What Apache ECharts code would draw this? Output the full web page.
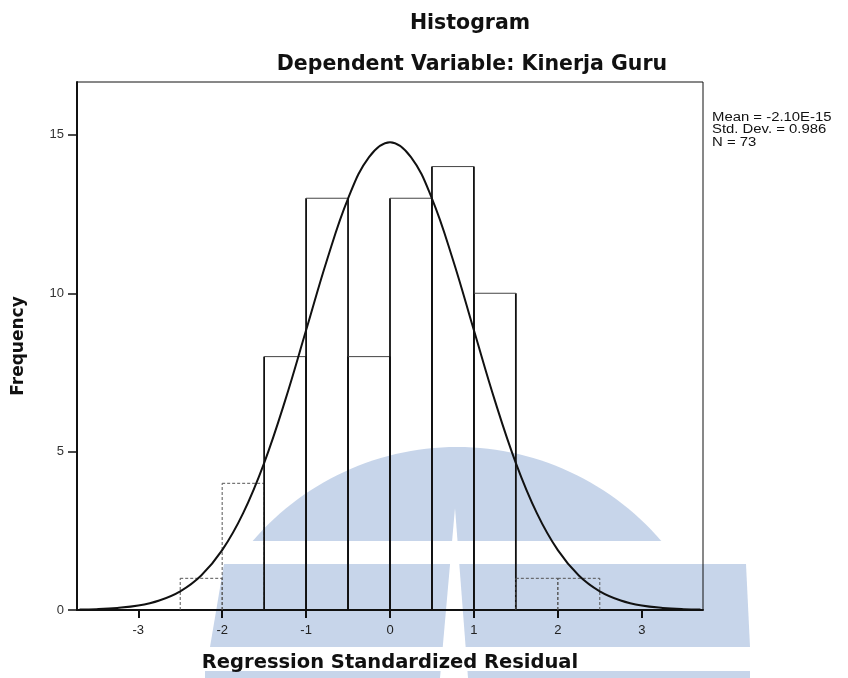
<!DOCTYPE html>
<html>
<head>
<meta charset="utf-8">
<script src="https://cdn.jsdelivr.net/npm/echarts@6/dist/echarts.min.js"></script>
<style>
html,body{margin:0;padding:0;background:#fff;}
#chart{width:848px;height:678px;}
</style>
</head>
<body>
<div id="chart"></div>
<script>
// ---- data ----
const binLower = [-2.5, -2.0, -1.5, -1.0, -0.5, 0.0, 0.5, 1.0, 1.5, 2.0];
const binUpper = [-2.0, -1.5, -1.0, -0.5, 0.0, 0.5, 1.0, 1.5, 2.0, 2.5];
const frequencies = [1, 4, 8, 13, 8, 13, 14, 10, 1, 1];

const curveX = [-3.7, -3.5, -3.25, -3.0, -2.75, -2.5, -2.25, -2.0, -1.75, -1.5, -1.25, -1.0, -0.75, -0.5, -0.25, 0.0,
                0.25, 0.5, 0.75, 1.0, 1.25, 1.5, 1.75, 2.0, 2.25, 2.5, 2.75, 3.0, 3.25, 3.5, 3.7];
const curveY = [0.015, 0.027, 0.065, 0.14, 0.30, 0.59, 1.09, 1.89, 3.06, 4.64, 6.61, 8.83, 11.06, 12.99, 14.30, 14.77,
                14.30, 12.99, 11.06, 8.83, 6.61, 4.64, 3.06, 1.89, 1.09, 0.59, 0.30, 0.14, 0.065, 0.027, 0.015];

const xTickValues = [-3, -2, -1, 0, 1, 2, 3];
const yTickValues = [0, 5, 10, 15];
const statLines = ['Mean = -2.10E-15', 'Std. Dev. = 0.986', 'N = 73'];

const titleMain = 'Histogram';
const titleSub = 'Dependent Variable: Kinerja Guru';
const xName = 'Regression Standardized Residual';
const yName = 'Frequency';

// ---- build ----
const histData = binLower.map((lo, i) => [lo, binUpper[i], frequencies[i]]);
const curveData = curveX.map((x, i) => [x, curveY[i]]);

const blue = '#c7d5ea';

// decorative watermark (logo) behind the chart
function domePoints(cx, cy, r, yCut) {
  const pts = [];
  const half = Math.sqrt(r * r - (cy - yCut) * (cy - yCut));
  const a0 = Math.atan2(cy - yCut, -half);
  const a1 = Math.atan2(cy - yCut, half);
  const n = 60;
  for (let k = 0; k <= n; k++) {
    const a = a0 + (a1 - a0) * k / n;
    pts.push([cx + r * Math.cos(a), cy - r * Math.sin(a)]);
  }
  return pts;
}
const watermark = [
  { type: 'polygon', z: -10, silent: true, shape: { points: domePoints(457, 716, 269, 541) }, style: { fill: blue } },
  { type: 'polygon', z: -10, silent: true, shape: { points: [[224, 564], [746, 564], [750, 647], [210, 647]] }, style: { fill: blue } },
  { type: 'rect', z: -10, silent: true, shape: { x: 205, y: 671, width: 545, height: 10 }, style: { fill: blue } },
  { type: 'polygon', z: -9, silent: true, shape: { points: [[455, 508], [468, 678], [440, 678]] }, style: { fill: '#ffffff' } }
];

const chart = echarts.init(document.getElementById('chart'), null, { renderer: 'canvas' });

const option = {
  backgroundColor: '#ffffff',
  animation: false,
  title: [
    { text: titleMain, left: 465, top: 8, textAlign: 'center',
      textStyle: { fontFamily: 'DejaVu Sans', fontWeight: 'bold', fontSize: 20.5, color: '#111' } },
    { text: titleSub, left: 467, top: 49, textAlign: 'center',
      textStyle: { fontFamily: 'DejaVu Sans', fontWeight: 'bold', fontSize: 20.5, color: '#111' } }
  ],
  graphic: watermark.concat([
    { type: 'text', z: 5, x: 712, y: 111, scaleX: 1.24,
      style: { text: statLines.join('\n'), fontFamily: 'Liberation Sans', fontSize: 12, lineHeight: 12.5, fill: '#111' } }
  ]),
  grid: { left: 77, right: 145, top: 82, bottom: 66, show: true, borderColor: '#111', borderWidth: 1, backgroundColor: 'transparent' },
  xAxis: {
    type: 'value', min: -3.73, max: 3.73,
    name: xName, nameLocation: 'middle', nameGap: 43,
    nameTextStyle: { fontFamily: 'DejaVu Sans', fontWeight: 'bold', fontSize: 19.5, color: '#111' },
    axisLine: { show: true, onZero: false, lineStyle: { color: '#111', width: 2 } },
    axisTick: { show: true, inside: false, length: 8, customValues: xTickValues, lineStyle: { color: '#111', width: 2 } },
    axisLabel: { customValues: xTickValues, margin: 14, fontFamily: 'Liberation Sans', fontSize: 13, color: '#222' },
    splitLine: { show: false }
  },
  yAxis: {
    type: 'value', min: 0, max: 16.67,
    name: yName, nameLocation: 'middle', nameGap: 50, nameRotate: 90,
    nameTextStyle: { fontFamily: 'DejaVu Sans', fontWeight: 'bold', fontSize: 17, color: '#111' },
    axisLine: { show: true, onZero: false, lineStyle: { color: '#111', width: 2 } },
    axisTick: { show: true, inside: false, length: 9, customValues: yTickValues, lineStyle: { color: '#111', width: 1.5 } },
    axisLabel: { customValues: yTickValues, margin: 13, fontFamily: 'Liberation Sans', fontSize: 13, color: '#333' },
    splitLine: { show: false }
  },
  series: [
    {
      type: 'custom',
      z: 3,
      data: histData,
      encode: { x: [0, 1], y: 2 },
      renderItem: function (params, api) {
        const lo = api.value(0), hi = api.value(1), f = api.value(2);
        const pTop = api.coord([lo, f]);
        const pEnd = api.coord([hi, 0]);
        const x0 = pTop[0], x1 = pEnd[0], yT = pTop[1], yB = pEnd[1];
        const small = f <= 4;
        const vStyle = small ? { stroke: '#555', lineWidth: 1, lineDash: [3, 2] } : { stroke: '#111', lineWidth: 1.8 };
        const tStyle = small ? { stroke: '#555', lineWidth: 1, lineDash: [3, 2] } : { stroke: '#444', lineWidth: 1 };
        return {
          type: 'group',
          children: [
            { type: 'line', shape: { x1: x0, y1: yB, x2: x0, y2: yT }, style: vStyle },
            { type: 'line', shape: { x1: x1, y1: yB, x2: x1, y2: yT }, style: vStyle },
            { type: 'line', shape: { x1: x0, y1: yT, x2: x1, y2: yT }, style: tStyle }
          ]
        };
      }
    },
    {
      type: 'line',
      z: 4,
      data: curveData,
      smooth: 0.4,
      showSymbol: false,
      symbol: 'none',
      lineStyle: { color: '#111', width: 2 }
    }
  ]
};
chart.setOption(option);
</script>
</body>
</html>
